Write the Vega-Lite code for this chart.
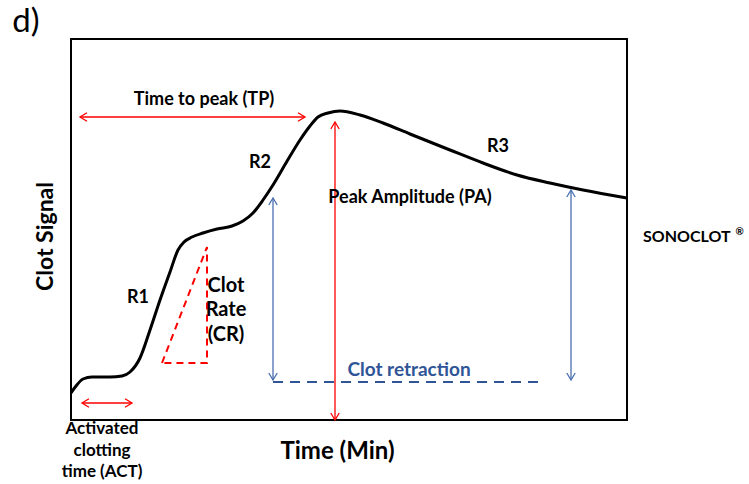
{
  "$schema": "https://vega.github.io/schema/vega-lite/v6.json",
  "width": 556,
  "height": 381,
  "autosize": {"type": "none"},
  "padding": {"left": 71, "top": 39, "right": 122, "bottom": 64},
  "background": "white",
  "config": {
    "view": {"stroke": "black", "strokeWidth": 2},
    "font": "Lato",
    "text": {"font": "Lato", "fontWeight": "bold", "fontSize": 16}
  },
  "datasets": {
    "curve": [
      {"t": 0, "signal": 27}, {"t": 5, "signal": 34}, {"t": 12, "signal": 41}, {"t": 21, "signal": 43},
      {"t": 39, "signal": 43}, {"t": 51, "signal": 44}, {"t": 59, "signal": 48}, {"t": 69, "signal": 62},
      {"t": 79, "signal": 90}, {"t": 89, "signal": 120}, {"t": 99, "signal": 148}, {"t": 107, "signal": 170},
      {"t": 113, "signal": 178}, {"t": 121, "signal": 183}, {"t": 132, "signal": 187}, {"t": 146, "signal": 191},
      {"t": 161, "signal": 194}, {"t": 172, "signal": 199}, {"t": 182, "signal": 207}, {"t": 192, "signal": 220},
      {"t": 202, "signal": 235}, {"t": 215, "signal": 257}, {"t": 229, "signal": 280}, {"t": 239, "signal": 294},
      {"t": 247, "signal": 303}, {"t": 257, "signal": 307}, {"t": 269, "signal": 309}, {"t": 289, "signal": 305},
      {"t": 312, "signal": 297}, {"t": 339, "signal": 286}, {"t": 379, "signal": 270}, {"t": 412, "signal": 257},
      {"t": 446, "signal": 245}, {"t": 479, "signal": 237}, {"t": 512, "signal": 230}, {"t": 556, "signal": 222}
    ],
    "triangle": [
      {"order": 1, "t": 91, "signal": 57},
      {"order": 2, "t": 136, "signal": 173},
      {"order": 3, "t": 136, "signal": 57},
      {"order": 4, "t": 91, "signal": 57}
    ],
    "arrows": [
      {"name": "ACT", "color": "red", "t": 11, "signal": 17, "t2": 61, "signal2": 17},
      {"name": "TP", "color": "red", "t": 9, "signal": 303, "t2": 234, "signal2": 303},
      {"name": "PA", "color": "red", "t": 264, "signal": 0, "t2": 264, "signal2": 298},
      {"name": "CR left", "color": "blue", "t": 202, "signal": 40, "t2": 202, "signal2": 222},
      {"name": "CR right", "color": "blue", "t": 500, "signal": 40, "t2": 500, "signal2": 230}
    ],
    "heads": [
      {"name": "ACT", "color": "red", "dir": "left", "t": 11, "signal": 17},
      {"name": "ACT", "color": "red", "dir": "right", "t": 61, "signal": 17},
      {"name": "TP", "color": "red", "dir": "left", "t": 9, "signal": 303},
      {"name": "TP", "color": "red", "dir": "right", "t": 234, "signal": 303},
      {"name": "PA", "color": "red", "dir": "down", "t": 264, "signal": 0},
      {"name": "PA", "color": "red", "dir": "up", "t": 264, "signal": 298},
      {"name": "CR left", "color": "blue", "dir": "down", "t": 202, "signal": 40},
      {"name": "CR left", "color": "blue", "dir": "up", "t": 202, "signal": 222},
      {"name": "CR right", "color": "blue", "dir": "down", "t": 500, "signal": 40},
      {"name": "CR right", "color": "blue", "dir": "up", "t": 500, "signal": 230}
    ],
    "retraction": [
      {"t": 202, "signal": 38, "t2": 469}
    ],
    "labels": [
      {"label": "Time to peak (TP)", "t": 133, "signal": 320},
      {"label": "R1", "t": 67, "signal": 122},
      {"label": "R2", "t": 189, "signal": 257},
      {"label": "R3", "t": 427, "signal": 273},
      {"label": "Peak Amplitude (PA)", "t": 339, "signal": 222}
    ],
    "crLabels": [
      {"label": "Clot", "t": 155, "signal": 134},
      {"label": "Rate", "t": 155, "signal": 110},
      {"label": "(CR)", "t": 155, "signal": 85}
    ],
    "actLabels": [
      {"label": "Activated", "t": 31, "signal": -9},
      {"label": "clotting", "t": 31, "signal": -31},
      {"label": "time (ACT)", "t": 31, "signal": -52}
    ]
  },
  "layer": [
    {
      "data": {"name": "curve"},
      "mark": {"type": "line", "color": "black", "strokeWidth": 3, "interpolate": "monotone"},
      "encoding": {
        "x": {"field": "t", "type": "quantitative",
          "scale": {"domain": [0, 556], "nice": false, "zero": false},
          "axis": {"title": "Time (Min)", "labels": false, "ticks": false, "domain": false, "grid": false,
            "titleFont": "Lato", "titleFontSize": 24, "titleFontWeight": "bold", "titleColor": "black",
            "titleX": 266, "titleY": 19, "titleAlign": "center", "titleBaseline": "top"}},
        "y": {"field": "signal", "type": "quantitative",
          "scale": {"domain": [0, 381], "nice": false, "zero": false},
          "axis": {"title": "Clot Signal", "labels": false, "ticks": false, "domain": false, "grid": false,
            "titleFont": "Lato", "titleFontSize": 23, "titleFontWeight": "bold", "titleColor": "black",
            "titleX": -26, "titleY": 197, "titleAngle": -90, "titleAlign": "center", "titleBaseline": "middle"}}
      }
    },
    {
      "data": {"name": "triangle"},
      "mark": {"type": "line", "color": "#FF0000", "strokeWidth": 2, "strokeDash": [7, 5]},
      "encoding": {
        "x": {"field": "t", "type": "quantitative"},
        "y": {"field": "signal", "type": "quantitative"},
        "order": {"field": "order"}
      }
    },
    {
      "data": {"name": "retraction"},
      "mark": {"type": "rule", "color": "#2F5597", "strokeWidth": 2, "strokeDash": [10, 7]},
      "encoding": {
        "x": {"field": "t", "type": "quantitative"},
        "x2": {"field": "t2"},
        "y": {"field": "signal", "type": "quantitative"}
      }
    },
    {
      "data": {"name": "arrows"},
      "transform": [{"filter": "datum.color === 'red'"}],
      "mark": {"type": "rule", "color": "#FF0000", "strokeWidth": 1.3},
      "encoding": {
        "x": {"field": "t", "type": "quantitative"},
        "x2": {"field": "t2"},
        "y": {"field": "signal", "type": "quantitative"},
        "y2": {"field": "signal2"}
      }
    },
    {
      "data": {"name": "arrows"},
      "transform": [{"filter": "datum.color === 'blue'"}],
      "mark": {"type": "rule", "color": "#4A6FB0", "strokeWidth": 1.3},
      "encoding": {
        "x": {"field": "t", "type": "quantitative"},
        "x2": {"field": "t2"},
        "y": {"field": "signal", "type": "quantitative"},
        "y2": {"field": "signal2"}
      }
    },
    {
      "data": {"name": "heads"},
      "transform": [{"filter": "datum.color === 'red' && datum.dir === 'right'"}],
      "mark": {"type": "point", "shape": "M-1,-0.6L0,0L-1,0.6", "filled": false, "size": 196, "strokeWidth": 1.3, "color": "#FF0000", "opacity": 1},
      "encoding": {"x": {"field": "t", "type": "quantitative"}, "y": {"field": "signal", "type": "quantitative"}}
    },
    {
      "data": {"name": "heads"},
      "transform": [{"filter": "datum.color === 'red' && datum.dir === 'left'"}],
      "mark": {"type": "point", "shape": "M1,-0.6L0,0L1,0.6", "filled": false, "size": 196, "strokeWidth": 1.3, "color": "#FF0000", "opacity": 1},
      "encoding": {"x": {"field": "t", "type": "quantitative"}, "y": {"field": "signal", "type": "quantitative"}}
    },
    {
      "data": {"name": "heads"},
      "transform": [{"filter": "datum.color === 'red' && datum.dir === 'up'"}],
      "mark": {"type": "point", "shape": "M-0.6,1L0,0L0.6,1", "filled": false, "size": 196, "strokeWidth": 1.3, "color": "#FF0000", "opacity": 1},
      "encoding": {"x": {"field": "t", "type": "quantitative"}, "y": {"field": "signal", "type": "quantitative"}}
    },
    {
      "data": {"name": "heads"},
      "transform": [{"filter": "datum.color === 'red' && datum.dir === 'down'"}],
      "mark": {"type": "point", "shape": "M-0.6,-1L0,0L0.6,-1", "filled": false, "size": 196, "strokeWidth": 1.3, "color": "#FF0000", "opacity": 1},
      "encoding": {"x": {"field": "t", "type": "quantitative"}, "y": {"field": "signal", "type": "quantitative"}}
    },
    {
      "data": {"name": "heads"},
      "transform": [{"filter": "datum.color === 'blue' && datum.dir === 'up'"}],
      "mark": {"type": "point", "shape": "M-0.6,1L0,0L0.6,1", "filled": false, "size": 196, "strokeWidth": 1.3, "color": "#4A6FB0", "opacity": 1},
      "encoding": {"x": {"field": "t", "type": "quantitative"}, "y": {"field": "signal", "type": "quantitative"}}
    },
    {
      "data": {"name": "heads"},
      "transform": [{"filter": "datum.color === 'blue' && datum.dir === 'down'"}],
      "mark": {"type": "point", "shape": "M-0.6,-1L0,0L0.6,-1", "filled": false, "size": 196, "strokeWidth": 1.3, "color": "#4A6FB0", "opacity": 1},
      "encoding": {"x": {"field": "t", "type": "quantitative"}, "y": {"field": "signal", "type": "quantitative"}}
    },
    {
      "data": {"name": "labels"},
      "mark": {"type": "text", "color": "black", "fontSize": 18, "fontWeight": "bold", "align": "center", "baseline": "middle"},
      "encoding": {
        "x": {"field": "t", "type": "quantitative"},
        "y": {"field": "signal", "type": "quantitative"},
        "text": {"field": "label"}
      }
    },
    {
      "data": {"name": "crLabels"},
      "mark": {"type": "text", "color": "black", "fontSize": 20, "fontWeight": "bold", "align": "center", "baseline": "middle"},
      "encoding": {
        "x": {"field": "t", "type": "quantitative"},
        "y": {"field": "signal", "type": "quantitative"},
        "text": {"field": "label"}
      }
    },
    {
      "data": {"name": "actLabels"},
      "mark": {"type": "text", "color": "black", "fontSize": 17, "fontWeight": "bold", "align": "center", "baseline": "middle"},
      "encoding": {
        "x": {"field": "t", "type": "quantitative"},
        "y": {"field": "signal", "type": "quantitative"},
        "text": {"field": "label"}
      }
    },
    {
      "data": {"values": [{"label": "Clot retraction", "t": 338, "signal": 50}]},
      "mark": {"type": "text", "color": "#2F5597", "fontSize": 19, "fontWeight": "bold", "align": "center", "baseline": "middle"},
      "encoding": {
        "x": {"field": "t", "type": "quantitative"},
        "y": {"field": "signal", "type": "quantitative"},
        "text": {"field": "label"}
      }
    },
    {
      "data": {"values": [{"label": "SONOCLOT", "t": 572, "signal": 183}]},
      "mark": {"type": "text", "color": "black", "fontSize": 16, "fontWeight": "bold", "align": "left", "baseline": "middle"},
      "encoding": {
        "x": {"field": "t", "type": "quantitative"},
        "y": {"field": "signal", "type": "quantitative"},
        "text": {"field": "label"}
      }
    },
    {
      "data": {"values": [{"label": "®", "t": 668.5, "signal": 188}]},
      "mark": {"type": "text", "color": "black", "fontSize": 10, "fontWeight": "bold", "align": "center", "baseline": "middle"},
      "encoding": {
        "x": {"field": "t", "type": "quantitative"},
        "y": {"field": "signal", "type": "quantitative"},
        "text": {"field": "label"}
      }
    },
    {
      "data": {"values": [{"label": "d)", "t": -45, "signal": 398}]},
      "mark": {"type": "text", "color": "black", "fontSize": 33, "fontWeight": "normal", "align": "center", "baseline": "middle"},
      "encoding": {
        "x": {"field": "t", "type": "quantitative"},
        "y": {"field": "signal", "type": "quantitative"},
        "text": {"field": "label"}
      }
    }
  ]
}
